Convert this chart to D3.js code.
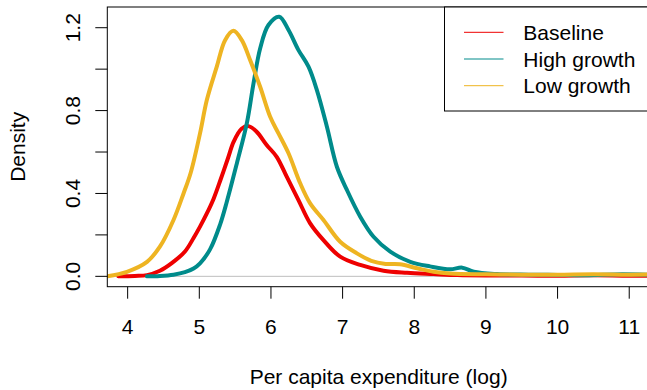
<!DOCTYPE html>
<html>
<head>
<meta charset="utf-8">
<script src="https://cdn.jsdelivr.net/npm/d3@7"></script>
<style>
  body { margin: 0; background: #fff; }
  text { font-family: "Liberation Sans", Arial, sans-serif; }
</style>
</head>
<body>
<script>
// density curves of per capita expenditure, three scenarios

var seriesNames = ["Baseline", "High growth", "Low growth"];
var seriesColors = ["#EE0000", "#008B8B", "#EEB422"];

var baseline = [[3.87, 0], [4.1, 0.002], [4.27, 0.006], [4.45, 0.027], [4.62, 0.065], [4.8, 0.12], [4.92, 0.185],
  [5.01, 0.24], [5.1, 0.3], [5.2, 0.375], [5.3, 0.47], [5.4, 0.57], [5.48, 0.65], [5.59, 0.712], [5.686, 0.725],
  [5.8, 0.698], [5.94, 0.634], [6.08, 0.577], [6.22, 0.481], [6.384, 0.368], [6.547, 0.256], [6.733, 0.175],
  [6.966, 0.095], [7.246, 0.055], [7.571, 0.027], [7.9, 0.017], [8.27, 0.011], [8.6, 0.006], [9, 0.004],
  [9.5, 0.004], [10, 0.003], [10.5, 0.005], [11, 0.003], [11.4, 0.004]];

var highGrowth = [[4.27, 0], [4.45, 0.002], [4.64, 0.008], [4.8, 0.02], [4.92, 0.038], [5.01, 0.063], [5.15, 0.13],
  [5.29, 0.25], [5.384, 0.36], [5.524, 0.545], [5.663, 0.738], [5.756, 0.93], [5.849, 1.1], [5.965, 1.213],
  [6.115, 1.253], [6.245, 1.189], [6.384, 1.092], [6.524, 1.012], [6.641, 0.899], [6.781, 0.722], [6.92, 0.529],
  [7.06, 0.417], [7.246, 0.288], [7.432, 0.191], [7.665, 0.119], [7.944, 0.07], [8.22, 0.048], [8.5, 0.034],
  [8.67, 0.042], [8.83, 0.022], [9.155, 0.011], [9.6, 0.008], [10, 0.007], [10.4, 0.005], [10.9, 0.01],
  [11.4, 0.006]];

var lowGrowth = [[3.716, 0], [3.99, 0.022], [4.27, 0.07], [4.45, 0.143], [4.64, 0.272], [4.78, 0.4], [4.88, 0.5],
  [5.01, 0.69], [5.105, 0.851], [5.244, 1.012], [5.36, 1.14], [5.476, 1.185], [5.593, 1.14], [5.709, 1.044],
  [5.849, 0.915], [5.989, 0.77], [6.105, 0.69], [6.245, 0.594], [6.408, 0.449], [6.547, 0.352], [6.733, 0.272],
  [6.966, 0.167], [7.2, 0.111], [7.4, 0.075], [7.6, 0.06], [7.8, 0.058], [8.04, 0.039], [8.27, 0.022],
  [8.5, 0.014], [9, 0.01], [9.5, 0.008], [10, 0.008], [10.5, 0.01], [11, 0.008], [11.4, 0.009]];

var xTicks = [4, 5, 6, 7, 8, 9, 10, 11];
var yTicks = [0, 0.2, 0.4, 0.6, 0.8, 1.0, 1.2];
var yLabels = [0, 0.4, 0.8, 1.2];

var allSeries = [baseline, highGrowth, lowGrowth];

var W = 647, H = 390;
var pLeft = 107.3, pTop = 7, pBottom = 286.7, pRight = 650;

var x = d3.scaleLinear().domain([3.716, 11.29]).range([pLeft, pRight]);
var y = d3.scaleLinear().domain([-0.05, 1.30]).range([pBottom, pTop]);

var svg = d3.select("body").append("svg").attr("width", W).attr("height", H);

svg.append("defs").append("clipPath").attr("id", "plotClip")
      .append("rect").attr("x", pLeft).attr("y", pTop).attr("width", pRight - pLeft).attr("height", pBottom - pTop);

// grey zero line
svg.append("line")
      .attr("x1", pLeft).attr("x2", pRight)
      .attr("y1", y(0)).attr("y2", y(0))
      .attr("stroke", "#BEBEBE").attr("stroke-width", 1);

var line = d3.line()
      .x(function (d) { return x(d[0]); })
      .y(function (d) { return y(d[1]); })
      .curve(d3.curveCatmullRom.alpha(0.5));

var curves = svg.append("g").attr("clip-path", "url(#plotClip)");
allSeries.forEach(function (s, i) {
      curves.append("path")
            .attr("fill", "none")
            .attr("stroke", seriesColors[i])
            .attr("stroke-width", 4)
            .attr("stroke-linejoin", "round")
            .attr("stroke-linecap", "round")
            .attr("d", line(s));
});

// plot box
svg.append("rect")
      .attr("x", pLeft).attr("y", pTop)
      .attr("width", pRight - pLeft).attr("height", pBottom - pTop)
      .attr("fill", "none").attr("stroke", "#000").attr("stroke-width", 1);

// x axis
var xAxis = svg.append("g").attr("class", "xaxis");
xAxis.selectAll("line.tick").data(xTicks).enter().append("line")
      .attr("class", "tick")
      .attr("x1", function (d) { return x(d); }).attr("x2", function (d) { return x(d); })
      .attr("y1", pBottom).attr("y2", pBottom + 12)
      .attr("stroke", "#000");
xAxis.selectAll("text").data(xTicks).enter().append("text")
      .attr("x", function (d) { return x(d); })
      .attr("y", 334)
      .attr("text-anchor", "middle")
      .attr("font-size", 21)
      .text(function (d) { return d; });

// y axis
var yAxis = svg.append("g").attr("class", "yaxis");
yAxis.selectAll("line.tick").data(yTicks).enter().append("line")
      .attr("class", "tick")
      .attr("x1", pLeft - 12).attr("x2", pLeft)
      .attr("y1", function (d) { return y(d); }).attr("y2", function (d) { return y(d); })
      .attr("stroke", "#000");
yAxis.selectAll("text").data(yLabels).enter().append("text")
      .attr("transform", function (d) { return "translate(80," + y(d) + ") rotate(-90)"; })
      .attr("text-anchor", "middle")
      .attr("font-size", 21)
      .text(function (d) { return d3.format(".1f")(d); });

// axis titles
svg.append("text")
      .attr("x", (pLeft + pRight) / 2).attr("y", 384)
      .attr("text-anchor", "middle")
      .attr("font-size", 21)
      .text("Per capita expenditure (log)");

svg.append("text")
      .attr("transform", "translate(24.5," + (pTop + pBottom) / 2 + ") rotate(-90)")
      .attr("text-anchor", "middle")
      .attr("font-size", 21)
      .text("Density");

// legend
var legend = svg.append("g").attr("class", "legend");
legend.append("rect")
      .attr("x", 444.5).attr("y", pTop)
      .attr("width", pRight - 444.5).attr("height", 111 - pTop)
      .attr("fill", "#fff").attr("stroke", "#000");
seriesNames.forEach(function (name, i) {
      var ly = 32.3 + i * 26.7;
      legend.append("line")
            .attr("x1", 464).attr("x2", 503.5)
            .attr("y1", ly).attr("y2", ly)
            .attr("stroke", seriesColors[i]).attr("stroke-width", 1);
      legend.append("text")
            .attr("x", 523.3).attr("y", ly)
            .attr("dy", "0.36em")
            .attr("font-size", 21)
            .text(name);
});
</script>
</body>
</html>
